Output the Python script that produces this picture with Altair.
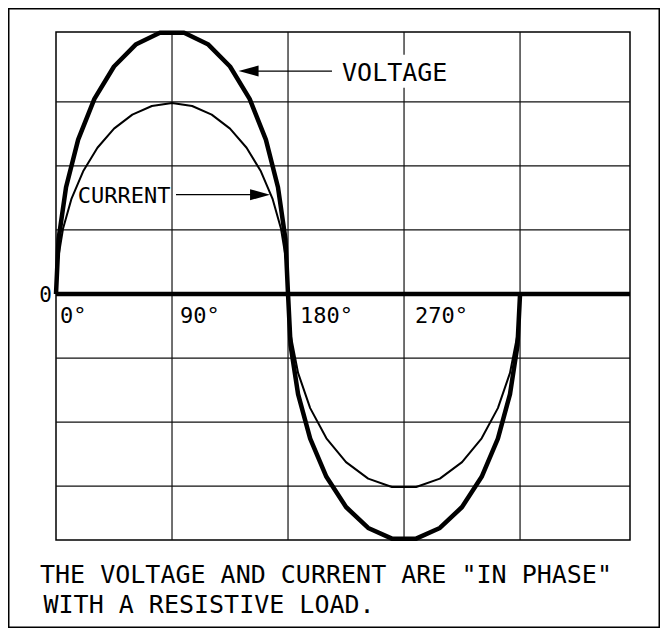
import altair as alt
import pandas as pd

# ---- data (x in electrical degrees, y in grid units) ----
volt_deg = [0, 1.97, 7.79, 17.19, 29.78, 45, 62.19, 80.60, 99.40, 117.81, 135, 150.22,
            162.81, 172.21, 178.03, 180, 181.97, 187.79, 197.19, 209.78, 225, 242.19,
            260.60, 279.40, 297.81, 315, 330.22, 342.81, 352.21, 358.03, 360]
volt_val = [0, 0.852, 1.667, 2.410, 3.047, 3.551, 3.900, 4.077, 4.077, 3.900, 3.551, 3.047,
            2.410, 1.667, 0.852, 0, -0.798, -1.562, -2.257, -2.854, -3.325, -3.652,
            -3.819, -3.819, -3.652, -3.325, -2.854, -2.257, -1.562, -0.798, 0]
curr_deg = [0, 1.37, 5.43, 12.06, 21.06, 32.15, 45, 59.22, 74.37, 90, 105.63, 120.78, 135,
            147.85, 158.94, 167.94, 174.57, 178.63, 180, 181.97, 187.79, 197.19, 209.78,
            225, 242.19, 260.60, 279.40, 297.81, 315, 330.22, 342.81, 352.21, 358.03, 360]
curr_val = [0, 0.517, 1.019, 1.490, 1.916, 2.283, 2.581, 2.800, 2.935, 2.98, 2.935, 2.800,
            2.581, 2.283, 1.916, 1.490, 1.019, 0.517, 0, -0.630, -1.232, -1.781, -2.252,
            -2.624, -2.882, -3.013, -3.013, -2.882, -2.624, -2.252, -1.781, -1.232, -0.630, 0]

tick_deg = [0, 90, 180, 270]
tick_text = ["0°", "90°", "180°", "270°"]
x_grid = [90, 180, 270, 360]
y_grid = [-3, -2, -1, 1, 2, 3]
caption_1 = 'THE VOLTAGE AND CURRENT ARE "IN PHASE"'
caption_2 = "WITH A RESISTIVE LOAD."
voltage_label = "VOLTAGE"
current_label = "CURRENT"
zero_label = "0"

X_MAX = 445.3
Y_MIN, Y_MAX = -3.84, 4.09
FONT = "DejaVu Sans Mono"
W, H = 574, 508
PAD_L, PAD_T = 48, 24
SVG_W, SVG_H = 652, 620

xs = alt.Scale(domain=[0, X_MAX], nice=False, zero=False)
ys = alt.Scale(domain=[Y_MIN, Y_MAX], nice=False, zero=False)


def X(f):
    return alt.X(f, scale=xs, axis=None)


def Y(f):
    return alt.Y(f, scale=ys, axis=None)


volt_df = pd.DataFrame({"deg": volt_deg, "val": volt_val, "i": range(len(volt_deg))})
curr_df = pd.DataFrame({"deg": curr_deg, "val": curr_val, "i": range(len(curr_deg))})

# grid lines
vgrid = alt.Chart(pd.DataFrame({"x": x_grid})).mark_rule(color="#111", strokeWidth=1.2).encode(x=X("x:Q"))
hgrid = alt.Chart(pd.DataFrame({"y": y_grid})).mark_rule(color="#111", strokeWidth=1.2).encode(y=Y("y:Q"))

# label backgrounds (break the grid lines behind annotations)
bg_df = pd.DataFrame({"x": [218.0, 93.0], "x2": [313.0, 156.0], "y": [3.734, 1.75], "y2": [3.219, 1.30]})
label_bg = alt.Chart(bg_df).mark_rect(color="white").encode(
    x=X("x:Q"), x2="x2:Q", y=Y("y:Q"), y2="y2:Q",
)

voltage = alt.Chart(volt_df).mark_line(color="black", strokeWidth=4.5, strokeJoin="round").encode(
    x=X("deg:Q"), y=Y("val:Q"), order="i:Q",
)
current = alt.Chart(curr_df).mark_line(color="black", strokeWidth=2, strokeJoin="round").encode(
    x=X("deg:Q"), y=Y("val:Q"), order="i:Q",
)

zero_df = pd.DataFrame({"x": [0], "x2": [X_MAX], "y": [0]})
zero_axis = alt.Chart(zero_df).mark_rule(color="black", strokeWidth=4.5).encode(
    x=X("x:Q"), x2="x2:Q", y=Y("y:Q"),
)

# arrows
arrow_lines_df = pd.DataFrame({"x": [156.7, 93.1], "x2": [214.1, 152.1], "y": [3.48, 1.55]})
arrow_lines = alt.Chart(arrow_lines_df).mark_rule(color="black", strokeWidth=1.3).encode(
    x=X("x:Q"), x2="x2:Q", y=Y("y:Q"),
)
head_left = alt.Chart(pd.DataFrame({"x": [149.4], "y": [3.48]})).mark_point(
    shape="M -1 0 L 1 -0.55 L 1 0.55 Z", size=400, filled=True, color="black", opacity=1
).encode(x=X("x:Q"), y=Y("y:Q"))
head_right = alt.Chart(pd.DataFrame({"x": [158.3], "y": [1.55]})).mark_point(
    shape="M 1 0 L -1 -0.55 L -1 0.55 Z", size=400, filled=True, color="black", opacity=1
).encode(x=X("x:Q"), y=Y("y:Q"))

volt_text = alt.Chart(pd.DataFrame({"x": [221.9], "y": [3.328], "t": [voltage_label]})).mark_text(
    font=FONT, fontSize=25, align="left", baseline="alphabetic", color="black"
).encode(x=X("x:Q"), y=Y("y:Q"), text="t:N")
curr_text = alt.Chart(pd.DataFrame({"x": [16.8], "y": [1.422], "t": [current_label]})).mark_text(
    font=FONT, fontSize=22, align="left", baseline="alphabetic", color="black"
).encode(x=X("x:Q"), y=Y("y:Q"), text="t:N")

# degree labels under the zero line
tick_dx = [4, 8, 12, 11]
tick_layers = []
for d, t, dx in zip(tick_deg, tick_text, tick_dx):
    tick_layers.append(
        alt.Chart(pd.DataFrame({"x": [d], "y": [0], "t": [t]})).mark_text(
            font=FONT, fontSize=22, align="left", baseline="alphabetic", dx=dx, dy=28.7, color="black"
        ).encode(x=X("x:Q"), y=Y("y:Q"), text="t:N")
    )

zero_text = alt.Chart(pd.DataFrame({"x": [0], "y": [0], "t": [zero_label]})).mark_text(
    font=FONT, fontSize=21, align="right", baseline="alphabetic", dx=-4, dy=8, color="black"
).encode(x=X("x:Q"), y=Y("y:Q"), text="t:N")

cap1 = alt.Chart(pd.DataFrame({"t": [caption_1]})).mark_text(
    font=FONT, fontSize=25, align="left", baseline="alphabetic", color="black"
).encode(x=alt.value(-16), y=alt.value(551), text="t:N")
cap2 = alt.Chart(pd.DataFrame({"t": [caption_2]})).mark_text(
    font=FONT, fontSize=25, align="left", baseline="alphabetic", color="black"
).encode(x=alt.value(-12.5), y=alt.value(581), text="t:N")

frame = alt.Chart(pd.DataFrame({"k": [0]})).mark_rect(
    fill=None, fillOpacity=0, stroke="black", strokeWidth=1.5
).encode(
    x=alt.value(-PAD_L + 0.75), x2=alt.value(SVG_W - PAD_L - 0.75),
    y=alt.value(-PAD_T + 0.75), y2=alt.value(SVG_H - PAD_T - 0.75),
)

chart = alt.layer(
    vgrid, hgrid, label_bg, voltage, current, zero_axis, arrow_lines, head_left, head_right,
    volt_text, curr_text, *tick_layers, zero_text, cap1, cap2, frame
).properties(
    width=W, height=H,
    padding={"left": PAD_L, "top": PAD_T, "right": SVG_W - PAD_L - W, "bottom": SVG_H - PAD_T - H},
    autosize=alt.AutoSizeParams(type="none"),
    background="white",
).configure_view(stroke="black", strokeWidth=1.5)

chart.save("out.html", embed_options={"renderer": "svg", "actions": False})
